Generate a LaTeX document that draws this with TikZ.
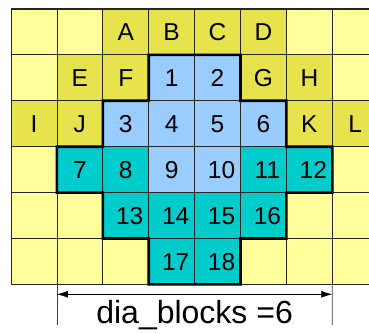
\documentclass[tikz,border=0pt]{standalone}
\usepackage{fontspec}
\setmainfont{Liberation Sans}
\usetikzlibrary{arrows.meta}
\definecolor{ly}{RGB}{255,255,153}
\definecolor{dy}{RGB}{230,227,76}
\definecolor{bl}{RGB}{153,204,255}
\definecolor{tl}{RGB}{0,204,204}
\begin{document}
\begin{tikzpicture}[x=1pt,y=-1pt,
  cell/.style={draw=black!85, line width=0.8pt, minimum width=45.9pt, minimum height=45.9pt,
    inner sep=0pt, outer sep=0pt, anchor=north west,
    font=\fontsize{24.5}{24.5}\selectfont, text height=17.5pt, text depth=0pt},
  outline/.style={draw=black, line width=2.6pt, line join=miter},
  dimline/.style={draw=black!75, line width=0.8pt},
  dimarrow/.style={draw=black, line width=0.8pt, {Latex[length=11pt,width=7pt]}-{Latex[length=11pt,width=7pt]}},
  dimlabel/.style={font=\fontsize{32}{32}\selectfont, anchor=base, inner sep=0pt}]
\useasboundingbox (0,0) rectangle (369,334);
\clip (0,0) rectangle (369,334);
\foreach \c/\f/\t in {0/ly/{},1/ly/{},2/dy/A,3/dy/B,4/dy/C,5/dy/D,6/ly/{},7/ly/{}}
  \node[cell,fill=\f] (c0\c) at (11+45.9*\c, 9) {\t};
\foreach \c/\f/\t in {0/ly/{},1/dy/E,2/dy/F,3/bl/1,4/bl/2,5/dy/G,6/dy/H,7/ly/{}}
  \node[cell,fill=\f] (c1\c) at (11+45.9*\c, 54.9) {\t};
\foreach \c/\f/\t in {0/dy/I,1/dy/J,2/bl/3,3/bl/4,4/bl/5,5/bl/6,6/dy/K,7/dy/L}
  \node[cell,fill=\f] (c2\c) at (11+45.9*\c, 100.8) {\t};
\foreach \c/\f/\t in {0/ly/{},1/tl/7,2/tl/8,3/bl/9,4/bl/{\kern8pt 10},5/tl/{\kern8pt 11},6/tl/{\kern8pt 12},7/ly/{}}
  \node[cell,fill=\f] (c3\c) at (11+45.9*\c, 146.7) {\t};
\foreach \c/\f/\t in {0/ly/{},1/ly/{},2/tl/{\kern8pt 13},3/tl/{\kern8pt 14},4/tl/{\kern8pt 15},5/tl/{\kern8pt 16},6/ly/{},7/ly/{}}
  \node[cell,fill=\f] (c4\c) at (11+45.9*\c, 192.6) {\t};
\foreach \c/\f/\t in {0/ly/{},1/ly/{},2/ly/{},3/tl/{\kern8pt 17},4/tl/{\kern8pt 18},5/ly/{},6/ly/{},7/ly/{}}
  \node[cell,fill=\f] (c5\c) at (11+45.9*\c, 238.5) {\t};
\draw[black!85, line width=2pt] (c00.north west) -- (c07.north east);
\draw[outline] (c13.north west) -- (c14.north east) -- (c14.south east) -- (c25.north east)
  -- (c25.south east) -- (c36.north east) -- (c36.south east) -- (c45.north east)
  -- (c45.south east) -- (c54.north east) -- (c54.south east) -- (c53.south west)
  -- (c53.north west) -- (c42.south west) -- (c42.north west) -- (c31.south west)
  -- (c31.north west) -- (c22.south west) -- (c22.north west) -- (c13.south west) -- cycle;
\coordinate (lb) at (56.9,325);
\coordinate (rb) at (332.3,325);
\coordinate (la) at (56.9,294.3);
\coordinate (ra) at (332.3,294.3);
\draw[dimline] (c51.south west) -- (lb);
\draw[dimline] (c57.south west) -- (rb);
\draw[dimarrow] (la) -- (ra);
\node[dimlabel] (lbl) at (194.6,323) {dia\_blocks =6};
\end{tikzpicture}
\end{document}
